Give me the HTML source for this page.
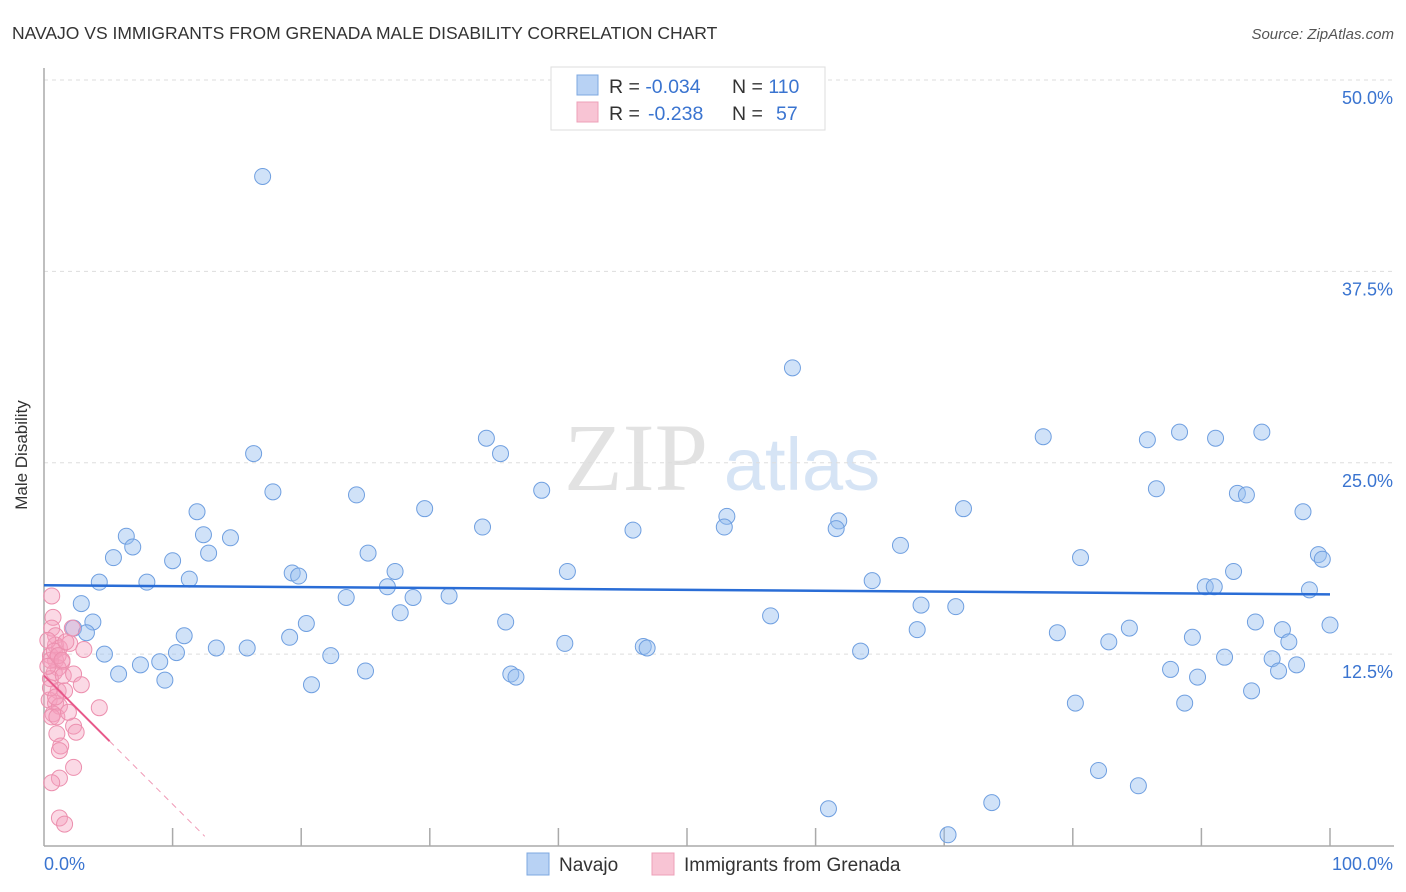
<!DOCTYPE html>
<html><head><meta charset="utf-8"><style>
body{margin:0;background:#fff;font-family:"Liberation Sans",sans-serif;}
svg{display:block}
</style></head><body>
<svg id="chart" width="1406" height="892" xmlns="http://www.w3.org/2000/svg">
<text x="12" y="39" font-size="17.5" fill="#333">NAVAJO VS IMMIGRANTS FROM GRENADA MALE DISABILITY CORRELATION CHART</text>
<text x="1394" y="39" font-size="15" fill="#555" font-style="italic" text-anchor="end">Source: ZipAtlas.com</text>
<g>
<text x="636" y="490" font-size="96" fill="#e2e2e2" font-family="Liberation Serif,serif" text-anchor="middle">ZIP</text>
<text x="802" y="490" font-size="74" fill="#d6e4f5" text-anchor="middle">atlas</text>
</g>
<g id="grid"></g>
<g id="axes"></g>
<g id="marks"></g>
<text x="27" y="455" font-size="17" fill="#333" text-anchor="middle" transform="rotate(-90 27 455)">Male Disability</text>
<g>
<rect x="551" y="67" width="274" height="63" fill="#fff" stroke="#ddd"/>
<rect x="577" y="75" width="21" height="20" fill="#b8d2f4" stroke="#7ea8e0"/>
<rect x="577" y="102" width="21" height="20" fill="#f8c4d4" stroke="#eea0b8"/>
<text x="609" y="93" font-size="19.5" fill="#333">R = <tspan fill="#3a74d0">-0.034</tspan><tspan x="732">N = </tspan><tspan fill="#3a74d0">110</tspan></text>
<text x="609" y="120" font-size="19.5" fill="#333">R = <tspan x="648" fill="#3a74d0">-0.238</tspan><tspan x="732">N = </tspan><tspan x="776" fill="#3a74d0">57</tspan></text>
</g>
<g>
<rect x="527" y="853" width="22" height="22" fill="#b8d2f4" stroke="#7ea8e0"/>
<text x="559" y="871" font-size="19" fill="#333">Navajo</text>
<rect x="652" y="853" width="22" height="22" fill="#f8c4d4" stroke="#eea0b8"/>
<text x="684" y="871" font-size="19" fill="#333">Immigrants from Grenada</text>
</g>
</svg>
<script>
const yTicks=[12.5,25,37.5,50];
const yTickLabels=["12.5%","25.0%","37.5%","50.0%"];
const xTickLabels=["0.0%","100.0%"];
const navX=[17.0,58.2,16.3,34.4,35.5,77.7,85.8,88.3,91.1,94.7,17.8,24.3,38.7,86.5,92.8,93.5,11.9,29.6,34.1,45.8,53.1,52.9,61.8,61.6,71.5,97.9,6.4,6.9,12.4,14.5,5.4,10.0,12.8,25.2,66.6,80.6,99.1,99.4,4.3,8.0,11.3,19.3,19.8,27.3,26.7,40.7,64.4,92.5,90.3,91.0,98.4,2.9,23.5,28.7,31.5,68.2,70.9,27.7,35.9,56.5,94.2,3.8,2.3,3.3,10.9,19.1,20.4,67.9,78.8,84.4,96.3,100.0,4.7,10.3,13.4,15.8,22.3,40.5,46.6,46.9,63.5,82.8,89.3,96.8,7.5,9.0,5.8,9.4,25.0,20.8,36.3,36.7,87.6,89.7,91.8,95.5,96.0,97.4,93.9,80.2,88.7,82.0,85.1,61.0,73.7,70.3];
const navY=[43.7,31.2,25.6,26.6,25.6,26.7,26.5,27.0,26.6,27.0,23.1,22.9,23.2,23.3,23.0,22.9,21.8,22.0,20.8,20.6,21.5,20.8,21.2,20.7,22.0,21.8,20.2,19.5,20.3,20.1,18.8,18.6,19.1,19.1,19.6,18.8,19.0,18.7,17.2,17.2,17.4,17.8,17.6,17.9,16.9,17.9,17.3,17.9,16.9,16.9,16.7,15.8,16.2,16.2,16.3,15.7,15.6,15.2,14.6,15.0,14.6,14.6,14.2,13.9,13.7,13.6,14.5,14.1,13.9,14.2,14.1,14.4,12.5,12.6,12.9,12.9,12.4,13.2,13.0,12.9,12.7,13.3,13.6,13.3,11.8,12.0,11.2,10.8,11.4,10.5,11.2,11.0,11.5,11.0,12.3,12.2,11.4,11.8,10.1,9.3,9.3,4.9,3.9,2.4,2.8,0.7];
const grnX=[0.6,0.7,0.6,0.9,0.9,1.2,0.5,0.9,1.4,1.1,0.8,0.5,1.5,2.0,3.1,2.3,2.9,1.1,1.6,0.4,0.9,1.2,0.7,0.6,1.0,4.3,2.3,2.5,1.0,1.3,1.2,2.3,1.2,0.6,1.2,1.6,0.3,0.5,0.8,0.3,1.1,1.4,1.7,2.2,1.9,0.5,0.9];
const grnY=[16.3,14.9,14.2,13.7,13.1,12.9,12.4,12.1,12.0,11.6,11.3,10.9,11.1,13.2,12.8,11.2,10.5,10.1,10.1,9.5,9.3,9.1,8.6,8.4,8.4,9.0,7.8,7.4,7.3,6.5,6.2,5.1,4.4,4.1,1.8,1.4,13.4,12.1,12.7,11.7,12.4,12.1,13.3,14.2,8.7,10.3,9.7];
const navTrend=[17.0,16.4];
const grnTrend=[11.1,-0.84];
const NS="http://www.w3.org/2000/svg";
const X=v=>44+v*12.86, Y=v=>845.5-v*15.31;
function mk(t,a,p){const e=document.createElementNS(NS,t);for(const k in a)e.setAttribute(k,a[k]);p.appendChild(e);return e;}
const grid=document.getElementById('grid'),axes=document.getElementById('axes'),marks=document.getElementById('marks');
yTicks.forEach((t,i)=>{
 const l=mk('line',{x1:44,x2:1394,y1:Y(t),y2:Y(t),stroke:'#ddd','stroke-dasharray':'4,4'},grid);
 
 
 const tx=mk('text',{x:1393,y:Y(t)+24,'font-size':18,fill:'#3a74d0','text-anchor':'end'},axes);
 tx.textContent=yTickLabels[i];
 
 
});
mk('line',{x1:44,x2:44,y1:68,y2:846,stroke:'#aaa','stroke-width':1.5},axes);
mk('line',{x1:44,x2:1394,y1:846,y2:846,stroke:'#aaa','stroke-width':1.5},axes);
for(let i=1;i<=10;i++){mk('line',{x1:X(i*10),x2:X(i*10),y1:828,y2:846,stroke:'#aaa','stroke-width':1.5},axes);}
[[0,'start',44],[100,'end',1393]].forEach((d,i)=>{const t=mk('text',{x:d[2],y:870,'font-size':18,fill:'#3a74d0','text-anchor':d[1]},axes);t.textContent=xTickLabels[i];
 
 });
navX.forEach((x,i)=>{const c=mk('circle',{cx:X(x),cy:Y(navY[i]),r:8,fill:'rgba(150,190,240,0.45)',stroke:'#6f9fe0','stroke-width':1},marks);
 
 });
grnX.forEach((x,i)=>{const c=mk('circle',{cx:X(x),cy:Y(grnY[i]),r:8,fill:'rgba(245,160,190,0.4)',stroke:'#ec8fae','stroke-width':1},marks);
 
 });
let l=mk('line',{x1:X(0),y1:Y(navTrend[0]),x2:X(100),y2:Y(navTrend[1]),stroke:'#2a6dd6','stroke-width':2.5},marks);


const gy=x=>grnTrend[0]+grnTrend[1]*x;
l=mk('line',{x1:X(0),y1:Y(gy(0)),x2:X(5.1),y2:Y(gy(5.1)),stroke:'#e8588a','stroke-width':2},marks);


l=mk('line',{x1:X(5.1),y1:Y(gy(5.1)),x2:X(12.5),y2:Y(gy(12.5)),stroke:'#f09ab6','stroke-width':1,'stroke-dasharray':'6,5'},marks);


</script>
</body></html>
